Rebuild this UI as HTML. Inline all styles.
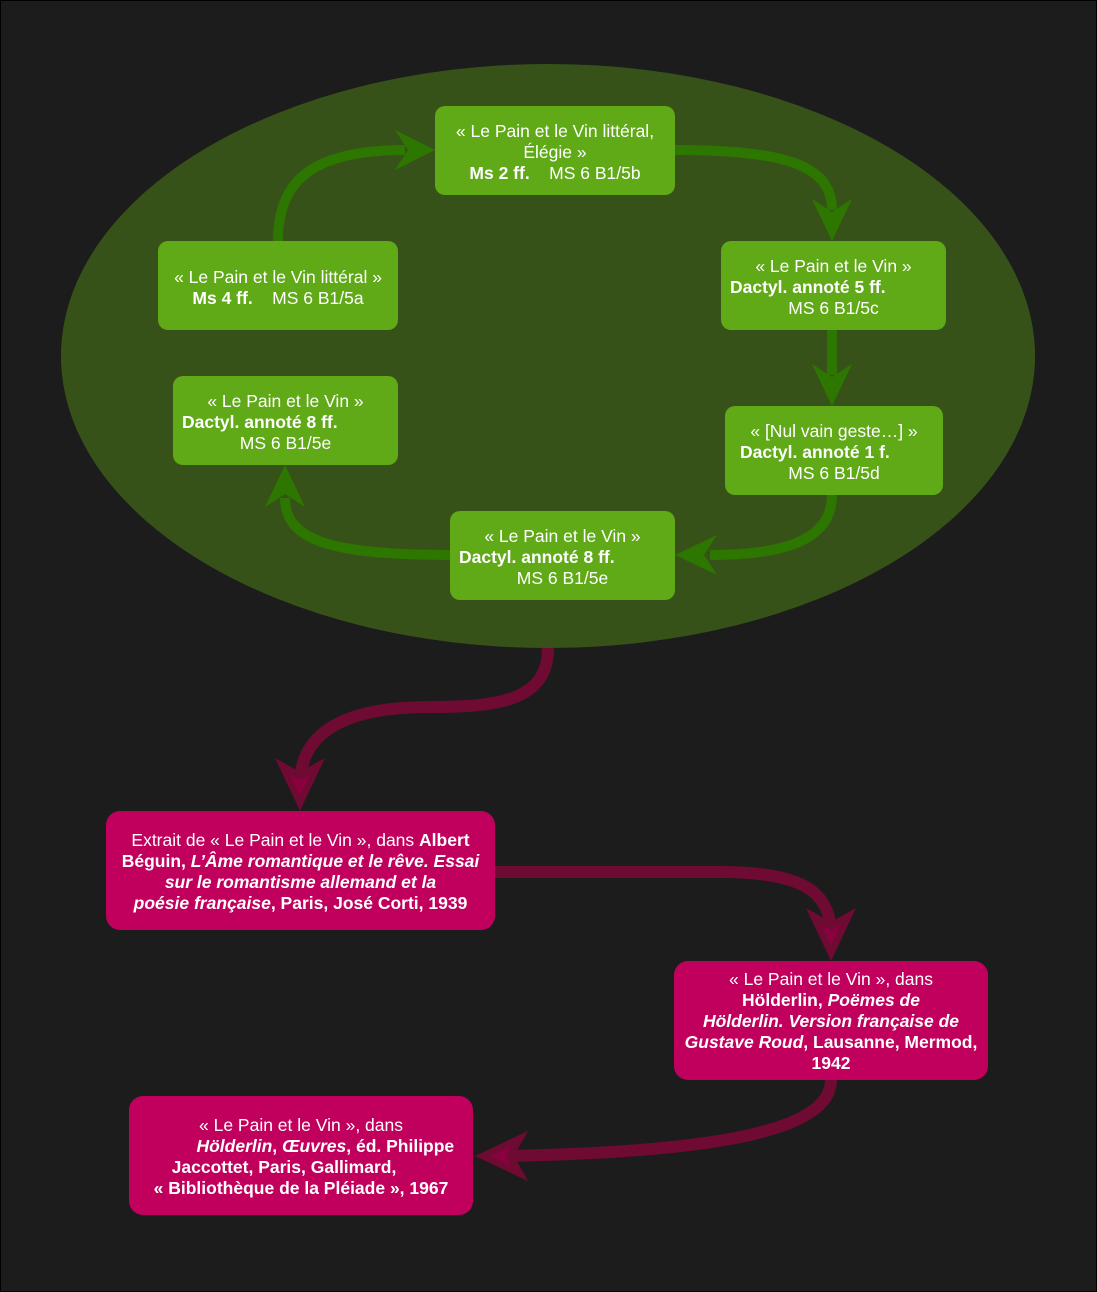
<!DOCTYPE html>
<html><head><meta charset="utf-8"><style>
body{margin:0;width:1097px;height:1292px;background:#1c1c1c;overflow:hidden;font-family:"Liberation Sans",sans-serif;}
.frame{position:absolute;left:0;top:0;width:1095px;height:1290px;border:1px solid #000;}
.b{position:absolute;box-sizing:border-box;border-radius:10px;color:#fff;font-size:17.5px;line-height:21px;text-align:center;display:flex;flex-direction:column;justify-content:center;}
.g{background:#60a917;padding-top:4px;}
.p{background:#c0005c;border-radius:14px;padding-top:2px;white-space:nowrap;}
svg{position:absolute;left:0;top:0;}
</style></head><body>
<div class="frame"></div>
<svg width="1097" height="1292">
<ellipse cx="548" cy="356" rx="487" ry="292" fill="#375219"/>
<g fill="none" stroke="#2d7600" stroke-width="10">
<path d="M278,241 C278,175 320,150 405,150"/>
<path d="M675,150 C785,150 832,165 832,210"/>
<path d="M832,330 L832,375"/>
<path d="M832,495 C832,540 785,555 710,555"/>
<path d="M450,555 C330,555 285,540 285,498"/>
</g>
<g fill="#2d7600">
<polygon points="435,150 395,130 408,150 395,170"/>
<polygon points="832,241 812,199 832,212 852,199"/>
<polygon points="832,406 812,364 832,377 852,364"/>
<polygon points="675,555 717,535 704,555 717,575"/>
<polygon points="285,465 265,507 285,494 305,507"/>
</g>
<g fill="none" stroke="#6f0a33" stroke-width="12">
<path d="M548,648 C548,700 500,707 430,707 C340,707 300,735 300,785"/>
<path d="M495,872 L720,872 C800,872 831,890 831,935"/>
<path d="M831,1080 C831,1130 720,1152 505,1156"/>
</g>
<g fill="#6f0a33">
<polygon points="300,811 275,758 300,772 325,758"/>
<polygon points="831,961 806,908 831,922 856,908"/>
<polygon points="475,1156 528,1131 514,1156 528,1181"/>
</g>
<g fill="#8a0040">
<polygon points="300,795 290,775 300,780 310,775"/>
<polygon points="831,945 821,925 831,930 841,925"/>
<polygon points="491,1156 511,1146 506,1156 511,1166"/>
</g>
</svg>
<div class="b g" style="left:435px;top:106px;width:240px;height:89px;">« Le Pain et le Vin littéral,<br>Élégie »<br><span><b>Ms 2 ff.</b>&nbsp;&nbsp;&nbsp; MS 6 B1/5b</span></div>
<div class="b g" style="left:158px;top:241px;width:240px;height:89px;">« Le Pain et le Vin littéral »<br><span><b>Ms 4 ff.</b>&nbsp;&nbsp;&nbsp; MS 6 B1/5a</span></div>
<div class="b g" style="left:721px;top:241px;width:225px;height:89px;">« Le Pain et le Vin »<br><b style="text-align:left;padding-left:9px">Dactyl. annoté 5 ff.</b>MS 6 B1/5c</div>
<div class="b g" style="left:173px;top:376px;width:225px;height:89px;">« Le Pain et le Vin »<br><b style="text-align:left;padding-left:9px">Dactyl. annoté 8 ff.</b>MS 6 B1/5e</div>
<div class="b g" style="left:725px;top:406px;width:218px;height:89px;">« [Nul vain geste…] »<br><b style="text-align:left;padding-left:15px">Dactyl. annoté 1 f.</b>MS 6 B1/5d</div>
<div class="b g" style="left:450px;top:511px;width:225px;height:89px;">« Le Pain et le Vin »<br><b style="text-align:left;padding-left:9px">Dactyl. annoté 8 ff.</b>MS 6 B1/5e</div>
<div class="b p" style="left:106px;top:811px;width:389px;height:119px;"><span>Extrait de « Le Pain et le Vin », dans <b>Albert</b><br><b>Béguin, <i>L’Âme romantique et le rêve. Essai</i></b><br><b><i>sur le romantisme allemand et la</i></b><br><b><i>poésie française</i>, Paris, José Corti, 1939</b></span></div>
<div class="b p" style="left:674px;top:961px;width:314px;height:119px;"><span>« Le Pain et le Vin », dans<br><b>Hölderlin, <i>Poëmes de</i></b><br><b><i>Hölderlin. Version française de</i></b><br><b><i>Gustave Roud</i>, Lausanne, Mermod,</b><br><b>1942</b></span></div>
<div class="b p" style="left:129px;top:1096px;width:344px;height:119px;"><span>« Le Pain et le Vin », dans<br><b>&nbsp;&nbsp;&nbsp;&nbsp;&nbsp;&nbsp;&nbsp;&nbsp;&nbsp;&nbsp;<i>Hölderlin</i>, <i>Œuvres</i>, éd. Philippe</b><br><b>Jaccottet, Paris, Gallimard,&nbsp;&nbsp;&nbsp;&nbsp;&nbsp;&nbsp;&nbsp;</b><br><b>« Bibliothèque de la Pléiade », 1967</b></span></div>
</body></html>
